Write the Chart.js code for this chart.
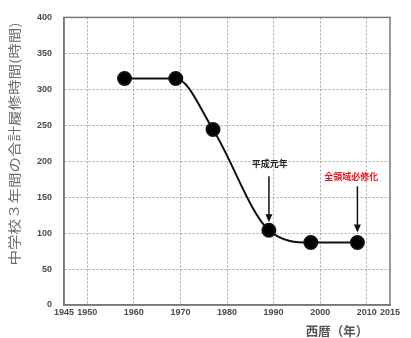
<!DOCTYPE html>
<html>
<head>
<meta charset="utf-8">
<script src="https://cdn.jsdelivr.net/npm/chart.js@4"></script>
<style>
  body { margin: 0; background: #fff; }
  #wrap { width: 411px; height: 338px; }
</style>
</head>
<body>
<div id="wrap"><canvas id="myChart"></canvas></div>
<script>
const years = [1958, 1969, 1977, 1989, 1998, 2008];
const hours = [315, 315, 244, 104, 87, 87];
const xTicks = [1945, 1950, 1960, 1970, 1980, 1990, 2000, 2010, 2015];
const yTicks = [0, 50, 100, 150, 200, 250, 300, 350, 400];

// arrows with a note above them
const notes = [
  { x: 1989, textX: 1989.2, text: '平成元年', color: '#222', textY: 196, fromY: 179, toY: 115 },
  { x: 2008, textX: 2006.7, text: '全領域必修化', color: '#e8141b', textY: 178, fromY: 165, toY: 101 }
];

const jp = '"Noto Sans CJK JP", sans-serif';

const notePlugin = {
  id: 'notes',
  afterDatasetsDraw(chart) {
    const c = chart.ctx;
    const xs = chart.scales.x, ys = chart.scales.y;
    c.save();
    notes.forEach(n => {
      const px = xs.getPixelForValue(n.x);
      const y0 = ys.getPixelForValue(n.fromY);
      const y1 = ys.getPixelForValue(n.toY);
      c.strokeStyle = '#111';
      c.fillStyle = '#111';
      c.lineWidth = 1.5;
      c.beginPath();
      c.moveTo(px, y0);
      c.lineTo(px, y1 - 5);
      c.stroke();
      c.beginPath();
      c.moveTo(px, y1);
      c.lineTo(px - 3.5, y1 - 8);
      c.lineTo(px + 3.5, y1 - 8);
      c.closePath();
      c.fill();
      c.fillStyle = n.color;
      c.font = 'bold 9px ' + jp;
      c.textAlign = 'center';
      c.textBaseline = 'middle';
      c.fillText(n.text, xs.getPixelForValue(n.textX), ys.getPixelForValue(n.textY));
    });
    // x axis title sits under the right part of the axis
    c.fillStyle = '#555';
    c.font = 'bold 12.5px ' + jp;
    c.fillText('西暦（年）', xs.getPixelForValue(2003.6), 331);
    // y axis title, a bit narrow
    c.translate(14, 144);
    c.rotate(-Math.PI / 2);
    c.scale(1, 0.82);
    c.fillStyle = '#6a6a6a';
    c.font = '15.5px ' + jp;
    c.fillText('中学校３年間の合計履修時間(時間)', 0, 0);
    c.restore();
  }
};

const ctx = document.getElementById('myChart');

let myChart = new Chart(ctx, {
  type: 'line',
  data: {
    datasets: [{
      data: years.map((y, i) => ({ x: y, y: hours[i] })),
      borderColor: '#111',
      backgroundColor: '#000',
      borderWidth: 2,
      pointRadius: 6.5,
      pointHoverRadius: 6.5,
      cubicInterpolationMode: 'monotone'
    }]
  },
  options: {
    responsive: true,
    maintainAspectRatio: false,
    animation: false,
    layout: { padding: { top: 17, right: 21, left: 0, bottom: 0 } },
    plugins: {
      legend: { display: false },
      tooltip: { enabled: false }
    },
    scales: {
      x: {
        type: 'linear',
        min: 1945,
        max: 2015,
        afterBuildTicks: s => { s.ticks = xTicks.map(v => ({ value: v })); },
        afterFit: s => { s.height = 33; },
        ticks: {
          autoSkip: false,
          maxRotation: 0,
          padding: 2,
          color: '#4a4a4a',
          font: { family: 'Liberation Sans', size: 9, weight: 'bold' },
          callback: v => String(v)
        },
        grid: {
          color: c => (c.tick && (c.tick.value === 1945 || c.tick.value === 2015)) ? 'rgba(0,0,0,0)' : '#a8a8a8',
          lineWidth: 1,
          drawTicks: false
        },
        border: { display: true, color: '#777', width: 1.5, dash: [2, 2] }
      },
      y: {
        min: 0,
        max: 400,
        afterBuildTicks: s => { s.ticks = yTicks.map(v => ({ value: v })); },
        afterFit: s => { s.width = 64; },
        ticks: {
          padding: 12,
          color: '#4a4a4a',
          font: { family: 'Liberation Sans', size: 9, weight: 'bold' }
        },
        grid: {
          color: c => (c.tick && (c.tick.value === 0 || c.tick.value === 400)) ? 'rgba(0,0,0,0)' : '#a8a8a8',
          lineWidth: 1,
          drawTicks: false
        },
        border: { display: true, color: '#777', width: 1.5, dash: [2, 2] }
      }
    }
  },
  plugins: [notePlugin, {
    id: 'frame',
    afterDatasetsDraw(chart) {
      const a = chart.chartArea, c = chart.ctx;
      c.save();
      c.strokeStyle = '#777';
      c.lineWidth = 1.5;
      c.strokeRect(a.left, a.top, a.right - a.left, a.bottom - a.top);
      c.restore();
    }
  }]
});
</script>
</body>
</html>
